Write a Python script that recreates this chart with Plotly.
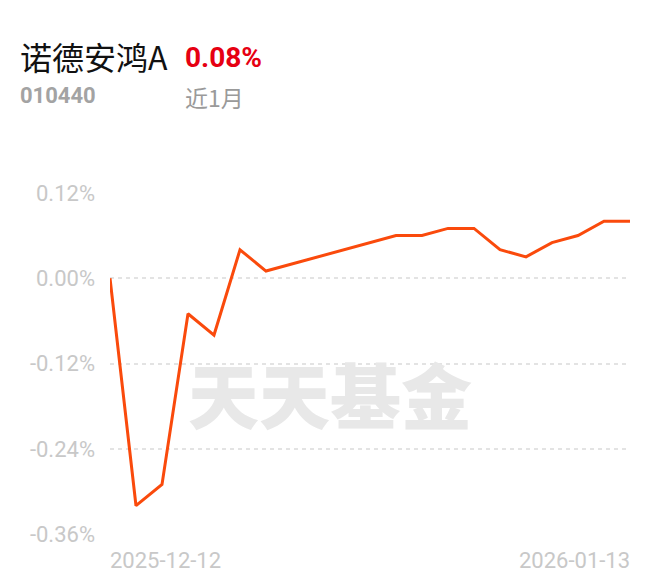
import plotly.graph_objects as go

# ---- data ----
dates = ["2025-12-12", "2025-12-15", "2025-12-16", "2025-12-17", "2025-12-18", "2025-12-19",
         "2025-12-22", "2025-12-23", "2025-12-24", "2025-12-25", "2025-12-26",
         "2025-12-29", "2025-12-30", "2025-12-31", "2026-01-05", "2026-01-06",
         "2026-01-07", "2026-01-08", "2026-01-09", "2026-01-12", "2026-01-13"]
returns = [0.00, -0.32, -0.29, -0.05, -0.08, 0.04, 0.01, 0.02, 0.03, 0.04, 0.05,
           0.06, 0.06, 0.07, 0.07, 0.04, 0.03, 0.05, 0.06, 0.08, 0.08]
y_tick_vals = [0.12, 0.00, -0.12, -0.24, -0.36]
y_tick_text = ["0.12%", "0.00%", "-0.12%", "-0.24%", "-0.36%"]
fund_name = "诺德安鸿A"
fund_code = "010440"
period_return = "0.08%"
period_label = "近1月"
watermark = "天天基金"

O = 8  # page body margin
W, H = 652, 577
L, T = 110 - O, 192 - O
R = W - (630 - O)
B = H - (535 - O)
PW, PH = W - L - R, H - T - B


def px(x):
    return (x - O - L) / PW


def py(y):
    return (H - B - (y - O)) / PH


fig = go.Figure()
fig.add_trace(go.Scatter(
    x=dates, y=returns, mode="lines",
    line=dict(color="#fa4a0c", width=3),
    hoverinfo="skip",
))

ann = []
# watermark
ann.append(dict(text=watermark, x=px(330), y=py(392), xref="paper", yref="paper",
                xanchor="center", yanchor="middle", showarrow=False,
                font=dict(family="Noto Sans CJK SC", size=71, color="#e8e8e8", weight=900)))
# header
ann.append(dict(text=fund_name, x=px(18), y=py(56), xref="paper", yref="paper",
                xanchor="left", yanchor="middle", showarrow=False,
                font=dict(family="Noto Sans CJK SC", size=32, color="#111111")))
ann.append(dict(text=period_return, x=px(183), y=py(57), xref="paper", yref="paper",
                xanchor="left", yanchor="middle", showarrow=False,
                font=dict(family="Roboto", size=28, color="#e60012", weight="bold")))
ann.append(dict(text=fund_code, x=px(18), y=py(95), xref="paper", yref="paper",
                xanchor="left", yanchor="middle", showarrow=False,
                font=dict(family="Roboto", size=22, color="#a3a3a3", weight="bold")))
ann.append(dict(text=period_label, x=px(183), y=py(97), xref="paper", yref="paper",
                xanchor="left", yanchor="middle", showarrow=False,
                font=dict(family="Noto Sans CJK SC", size=23, color="#9a9a9a")))
# x-axis end labels
ann.append(dict(text=dates[0], x=dates[0], y=0, xref="x", yref="paper",
                xanchor="left", yanchor="middle", yshift=-25, xshift=-2, showarrow=False,
                font=dict(family="Roboto", size=22, color="#c8c8c8")))
ann.append(dict(text=dates[-1], x=dates[-1], y=0, xref="x", yref="paper",
                xanchor="right", yanchor="middle", yshift=-25, xshift=2, showarrow=False,
                font=dict(family="Roboto", size=22, color="#c8c8c8")))

fig.update_layout(
    width=W, height=H,
    margin=dict(l=L, r=R, t=T, b=B),
    paper_bgcolor="white", plot_bgcolor="white",
    showlegend=False,
    annotations=ann,
    xaxis=dict(type="category", range=[0, len(dates) - 1], showgrid=False,
               showticklabels=False, zeroline=False, showline=False, ticks=""),
    yaxis=dict(range=[-0.3612, 0.1212], tickvals=y_tick_vals, ticktext=y_tick_text,
               showgrid=True, gridcolor="#e3e3e3", gridwidth=1.5, griddash="4px,4px",
               zeroline=False, showline=False, ticks="", ticklabelstandoff=14,
               tickfont=dict(family="Roboto", size=22, color="#c8c8c8")),
)

fig.write_html("out.html")
